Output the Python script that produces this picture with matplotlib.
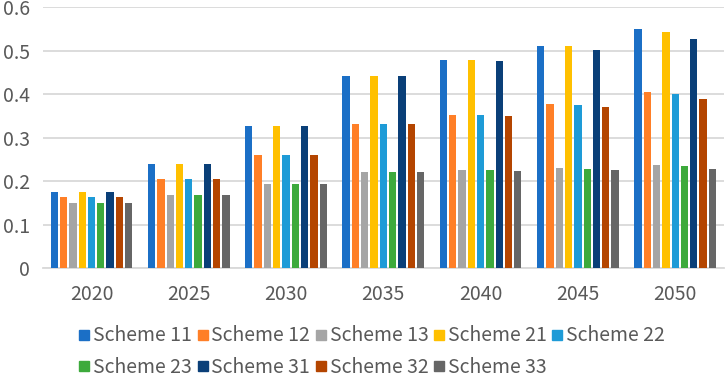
import matplotlib as mpl
mpl.use('Agg')
import matplotlib.pyplot as plt
import matplotlib.ticker as mticker
import numpy as np

plt.rcParams['font.family'] = ['Noto Sans CJK SC', 'DejaVu Sans']

years = ['2020', '2025', '2030', '2035', '2040', '2045', '2050']
schemes = ['Scheme 11', 'Scheme 12', 'Scheme 13', 'Scheme 21', 'Scheme 22',
           'Scheme 23', 'Scheme 31', 'Scheme 32', 'Scheme 33']

s11 = [0.176, 0.239, 0.326, 0.442, 0.479, 0.512, 0.549]
s12 = [0.164, 0.205, 0.260, 0.331, 0.352, 0.377, 0.405]
s13 = [0.149, 0.169, 0.193, 0.221, 0.225, 0.230, 0.237]
s21 = [0.176, 0.239, 0.326, 0.442, 0.479, 0.511, 0.544]
s22 = [0.164, 0.205, 0.260, 0.331, 0.352, 0.376, 0.401]
s23 = [0.149, 0.169, 0.193, 0.221, 0.225, 0.229, 0.234]
s31 = [0.176, 0.239, 0.326, 0.442, 0.476, 0.502, 0.527]
s32 = [0.164, 0.205, 0.260, 0.331, 0.350, 0.370, 0.389]
s33 = [0.149, 0.169, 0.193, 0.221, 0.223, 0.225, 0.228]
series = [s11, s12, s13, s21, s22, s23, s31, s32, s33]

colors = ['#1B6FC6', '#FF7F27', '#A5A5A5', '#FFC000', '#1E9BD7',
          '#3DAA3C', '#0A3F78', '#B44500', '#666666']

fig = plt.figure(figsize=(7.26, 3.79), dpi=100)
ax = fig.add_axes([0.059, 0.292, 0.938, 0.689])

x = np.arange(len(years))
pitch = 0.0956
width = 0.075
for i, (vals, c) in enumerate(zip(series, colors)):
    off = (i - 4) * pitch
    ax.bar(x + off, vals, width=width, color=c, label=schemes[i], zorder=3)

ax.set_xlim(-0.5, len(years) - 0.5)
ax.set_ylim(0, 0.6)
ax.set_yticks(np.arange(0, 0.61, 0.1))
ax.yaxis.set_major_formatter(mticker.FuncFormatter(
    lambda v, p: '0' if abs(v) < 1e-9 else '%.1f' % v))
ax.set_xticks(x)
ax.set_xticklabels(years)
ax.grid(axis='y', color='#D9D9D9', linewidth=1.3, zorder=0)
for s in ['top', 'right', 'left']:
    ax.spines[s].set_visible(False)
ax.spines['bottom'].set_color('#D9D9D9')
ax.spines['bottom'].set_linewidth(1.3)
ax.tick_params(length=0, labelsize=14, colors='#595959')
ax.tick_params(axis='x', pad=11.5)
ax.tick_params(axis='y', pad=9.5)

# legend is filled column by column, so reorder to get row-major layout
order = [0, 5, 1, 6, 2, 7, 3, 8, 4]
handles = [plt.Line2D([], [], marker='s', linestyle='', markersize=7,
                      color=colors[i]) for i in order]
labels = [schemes[i] for i in order]
fig.legend(handles, labels, loc='upper center', bbox_to_anchor=(0.512, 0.162),
           ncol=5, frameon=False, fontsize=14, labelcolor='#595959',
           handlelength=0.6, handletextpad=0.15, columnspacing=0.25,
           labelspacing=0.55, borderaxespad=0)

fig.savefig('out.png', dpi=100)
